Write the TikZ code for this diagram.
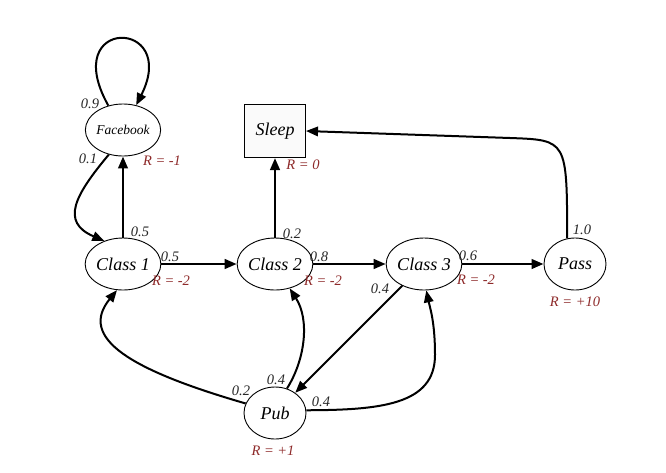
\documentclass[tikz,border=0pt]{standalone}
\usepackage{fontspec}
\setmainfont{Liberation Serif}
\usetikzlibrary{shapes.geometric,arrows.meta}
\definecolor{rred}{HTML}{8E2A2A}
\tikzset{
  st/.style={ellipse,draw,line width=0.9pt,minimum width=62pt,minimum height=52pt,inner sep=0pt,font=\fontsize{18}{20}\selectfont\itshape},
  sqbox/.style={rectangle,draw,line width=1pt,minimum width=61pt,minimum height=53pt,inner sep=0pt,fill=gray!4,font=\fontsize{18}{20}\selectfont\itshape},
  edge/.style={line width=2pt,-{Triangle[length=12pt,width=9.5pt]}},
  sedge/.style={line width=2.6pt,-{Triangle[length=12pt,width=9.5pt]}},
  prob/.style={font=\fontsize{14.5}{16}\selectfont\itshape,text=black!85,inner sep=0pt},
  rew/.style={font=\fontsize{14.5}{16}\selectfont\itshape,text=rred,inner sep=0pt}
}
\begin{document}
\begin{tikzpicture}[x=1pt,y=-1pt]
\useasboundingbox (0,0) rectangle (666,472);
\fill[white] (0,0) rectangle (666,472);
% states
\node[st,font=\fontsize{13.5}{15}\selectfont\itshape] (fb) at (123,130) {Facebook};
\node[sqbox] (sleep) at (275,131) {Sleep};
\node[st] (c1) at (123,264) {Class 1};
\node[st] (c2) at (275,264) {Class 2};
\node[st] (c3) at (424,264) {Class 3};
\node[st] (pass) at (575,264) {Pass};
\node[st] (pub) at (275,413) {Pub};
% edges
\draw[edge] (fb.121) .. controls (58,16) and (180,18) .. (fb.62);
\draw[edge] (fb.240) .. controls (75,195) and (60,222) .. (c1.129);
\draw[sedge] (c1) -- (fb);
\draw[sedge] (c1) -- (c2);
\draw[sedge] (c2) -- (sleep);
\draw[sedge] (c2) -- (c3);
\draw[sedge] (c3) -- (pass);
\draw[edge] (pass.107) .. controls (567,140) .. (510,138) -- (sleep.east);
\draw[edge] (c3) -- (pub);
\draw[edge] (pub.162) .. controls (130,370) and (78,338) .. (c1.257);
\draw[edge] (pub.64) .. controls (305,360) and (310,320) .. (c2.301);
\draw[edge] (pub.5) .. controls (380,410) and (435,405) .. (435,355) .. controls (435,322) and (430,308) .. (c3.275);
% labels
\node[prob] (l09) at (90,104) {0.9};
\node[prob] (l01) at (88,159) {0.1};
\node[rew] (rfb) at (162,161) {R = -1};
\node[rew] (rsl) at (303,165) {R = 0};
\node[prob] (l05a) at (140,232) {0.5};
\node[prob] (l05b) at (170,257) {0.5};
\node[rew] (rc1) at (171,281) {R = -2};
\node[prob] (l02a) at (292,234) {0.2};
\node[prob] (l08) at (319,257) {0.8};
\node[rew] (rc2) at (323,281) {R = -2};
\node[prob] (l06) at (468,256) {0.6};
\node[rew] (rc3) at (476,280) {R = -2};
\node[prob] (l04a) at (380,289) {0.4};
\node[prob] (l10) at (582,230) {1.0};
\node[rew] (rps) at (575,302) {R = +10};
\node[prob] (l02b) at (241,391) {0.2};
\node[prob] (l04b) at (276,380) {0.4};
\node[prob] (l04c) at (321,402) {0.4};
\node[rew] (rpb) at (273,451) {R = +1};
\end{tikzpicture}
\end{document}
